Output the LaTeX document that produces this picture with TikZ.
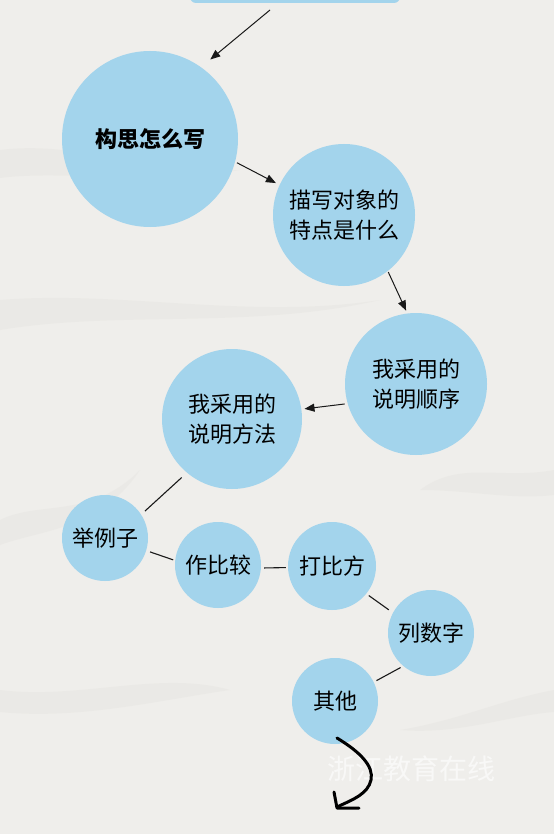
\documentclass[tikz,border=0pt]{standalone}
\usepackage{fontspec}
\newfontfamily\cjk{Noto Sans CJK SC}
\usetikzlibrary{arrows.meta}
\definecolor{paper}{HTML}{EFEEEB}
\definecolor{crease}{HTML}{E3E1DD}
\definecolor{bubble}{HTML}{A3D4EC}
\tikzset{
  bub/.style={circle, fill=bubble, inner sep=0pt, align=center,
    font=\cjk\fontsize{22}{30}\selectfont, text=black},
  arr/.style={draw=black!90, line width=1pt, -{Triangle[length=10pt,width=8pt]}},
  link/.style={draw=black!90, line width=1.1pt},
  hand/.style={draw=black, line width=3pt, line cap=round, line join=round},
  creasefill/.style={fill=crease, opacity=0.35},
}
\begin{document}
\begin{tikzpicture}[x=1pt,y=-1pt]
\fill[paper] (0,0) rectangle (554,834);
\useasboundingbox (0,0) rectangle (554,834);
% faint creases of the paper
\fill[creasefill] (0,150) .. controls (80,140) and (150,175) .. (240,170) .. controls (150,185) and (60,170) .. (0,178) -- cycle;
\fill[creasefill] (0,300) .. controls (120,290) and (250,320) .. (380,300) .. controls (250,330) and (120,310) .. (0,330) -- cycle;
\fill[creasefill] (0,520) .. controls (40,500) and (90,520) .. (140,470) .. controls (100,530) and (40,530) .. (0,545) -- cycle;
\fill[creasefill] (0,690) .. controls (80,700) and (160,670) .. (230,690) .. controls (160,700) and (80,720) .. (0,712) -- cycle;
\fill[creasefill] (554,470) .. controls (500,480) and (460,460) .. (420,490) .. controls (470,490) and (510,500) .. (554,495) -- cycle;
\fill[creasefill] (554,690) .. controls (500,700) and (460,720) .. (400,730) .. controls (460,735) and (510,715) .. (554,712) -- cycle;
% partial shape at top
\node[fill=bubble, rounded corners=6pt, minimum width=210pt, minimum height=14pt, inner sep=0pt] (top) at (295,-4) {};
\coordinate (topend) at (270,10);
% circles
\node[bub, minimum size=176pt, font=\cjk\bfseries\fontsize{22}{30}\selectfont] (c1) at (150,139) {构思怎么写};
\node[bub, minimum size=142pt] (c2) at (344,215) {描写对象的\\特点是什么};
\node[bub, minimum size=142pt] (c3) at (416,384) {我采用的\\说明顺序};
\node[bub, minimum size=140pt] (c4) at (232,419) {我采用的\\说明方法};
\node[bub, minimum size=86pt] (c5) at (105,538) {举例子};
\node[bub, minimum size=86pt] (c6) at (218,565) {作比较};
\node[bub, minimum size=88pt] (c7) at (332,566) {打比方};
\node[bub, minimum size=86pt] (c8) at (431,633) {列数字};
\node[bub, minimum size=86pt] (c9) at (335,701) {其他};
% arrows
\draw[arr] (topend) -- ([shift={(6pt,10pt)}]c1.52);
\draw[arr, shorten <=2pt, shorten >=4pt] (c1.-15) -- (c2.155);
\draw[arr, shorten <=1pt, shorten >=3pt] (c2.-52) -- (c3.97);
\draw[arr, shorten <=3pt, shorten >=3pt] (c3.-164) -- (c4.8);
% links
\draw[link, shorten <=7pt, shorten >=5pt] (c4.230) -- (c5.33);
\draw[link, shorten <=4pt, shorten >=2pt] (c5.-17) -- (c6.174);
\draw[link, shorten <=3pt, shorten >=2pt] (c6.-4) -- (c7.182);
\draw[link, shorten <=3pt, shorten >=5pt] (c7.-39) -- (c8.152);
\draw[link, shorten <=3pt, shorten >=3pt] (c8.230) -- (c9.26);
% watermark
\node[font=\cjk\fontsize{28}{30}\selectfont, text=white, opacity=0.6] (wm) at (411,769) {浙江教育在线};
% hand-drawn curved arrow
\draw[hand] (337,738) .. controls (360,752) and (374,766) .. (371,780)
  .. controls (368,794) and (352,800) .. (339,806);
\draw[hand] (334,792) -- (337,808) -- (359,808);
\end{tikzpicture}
\end{document}
